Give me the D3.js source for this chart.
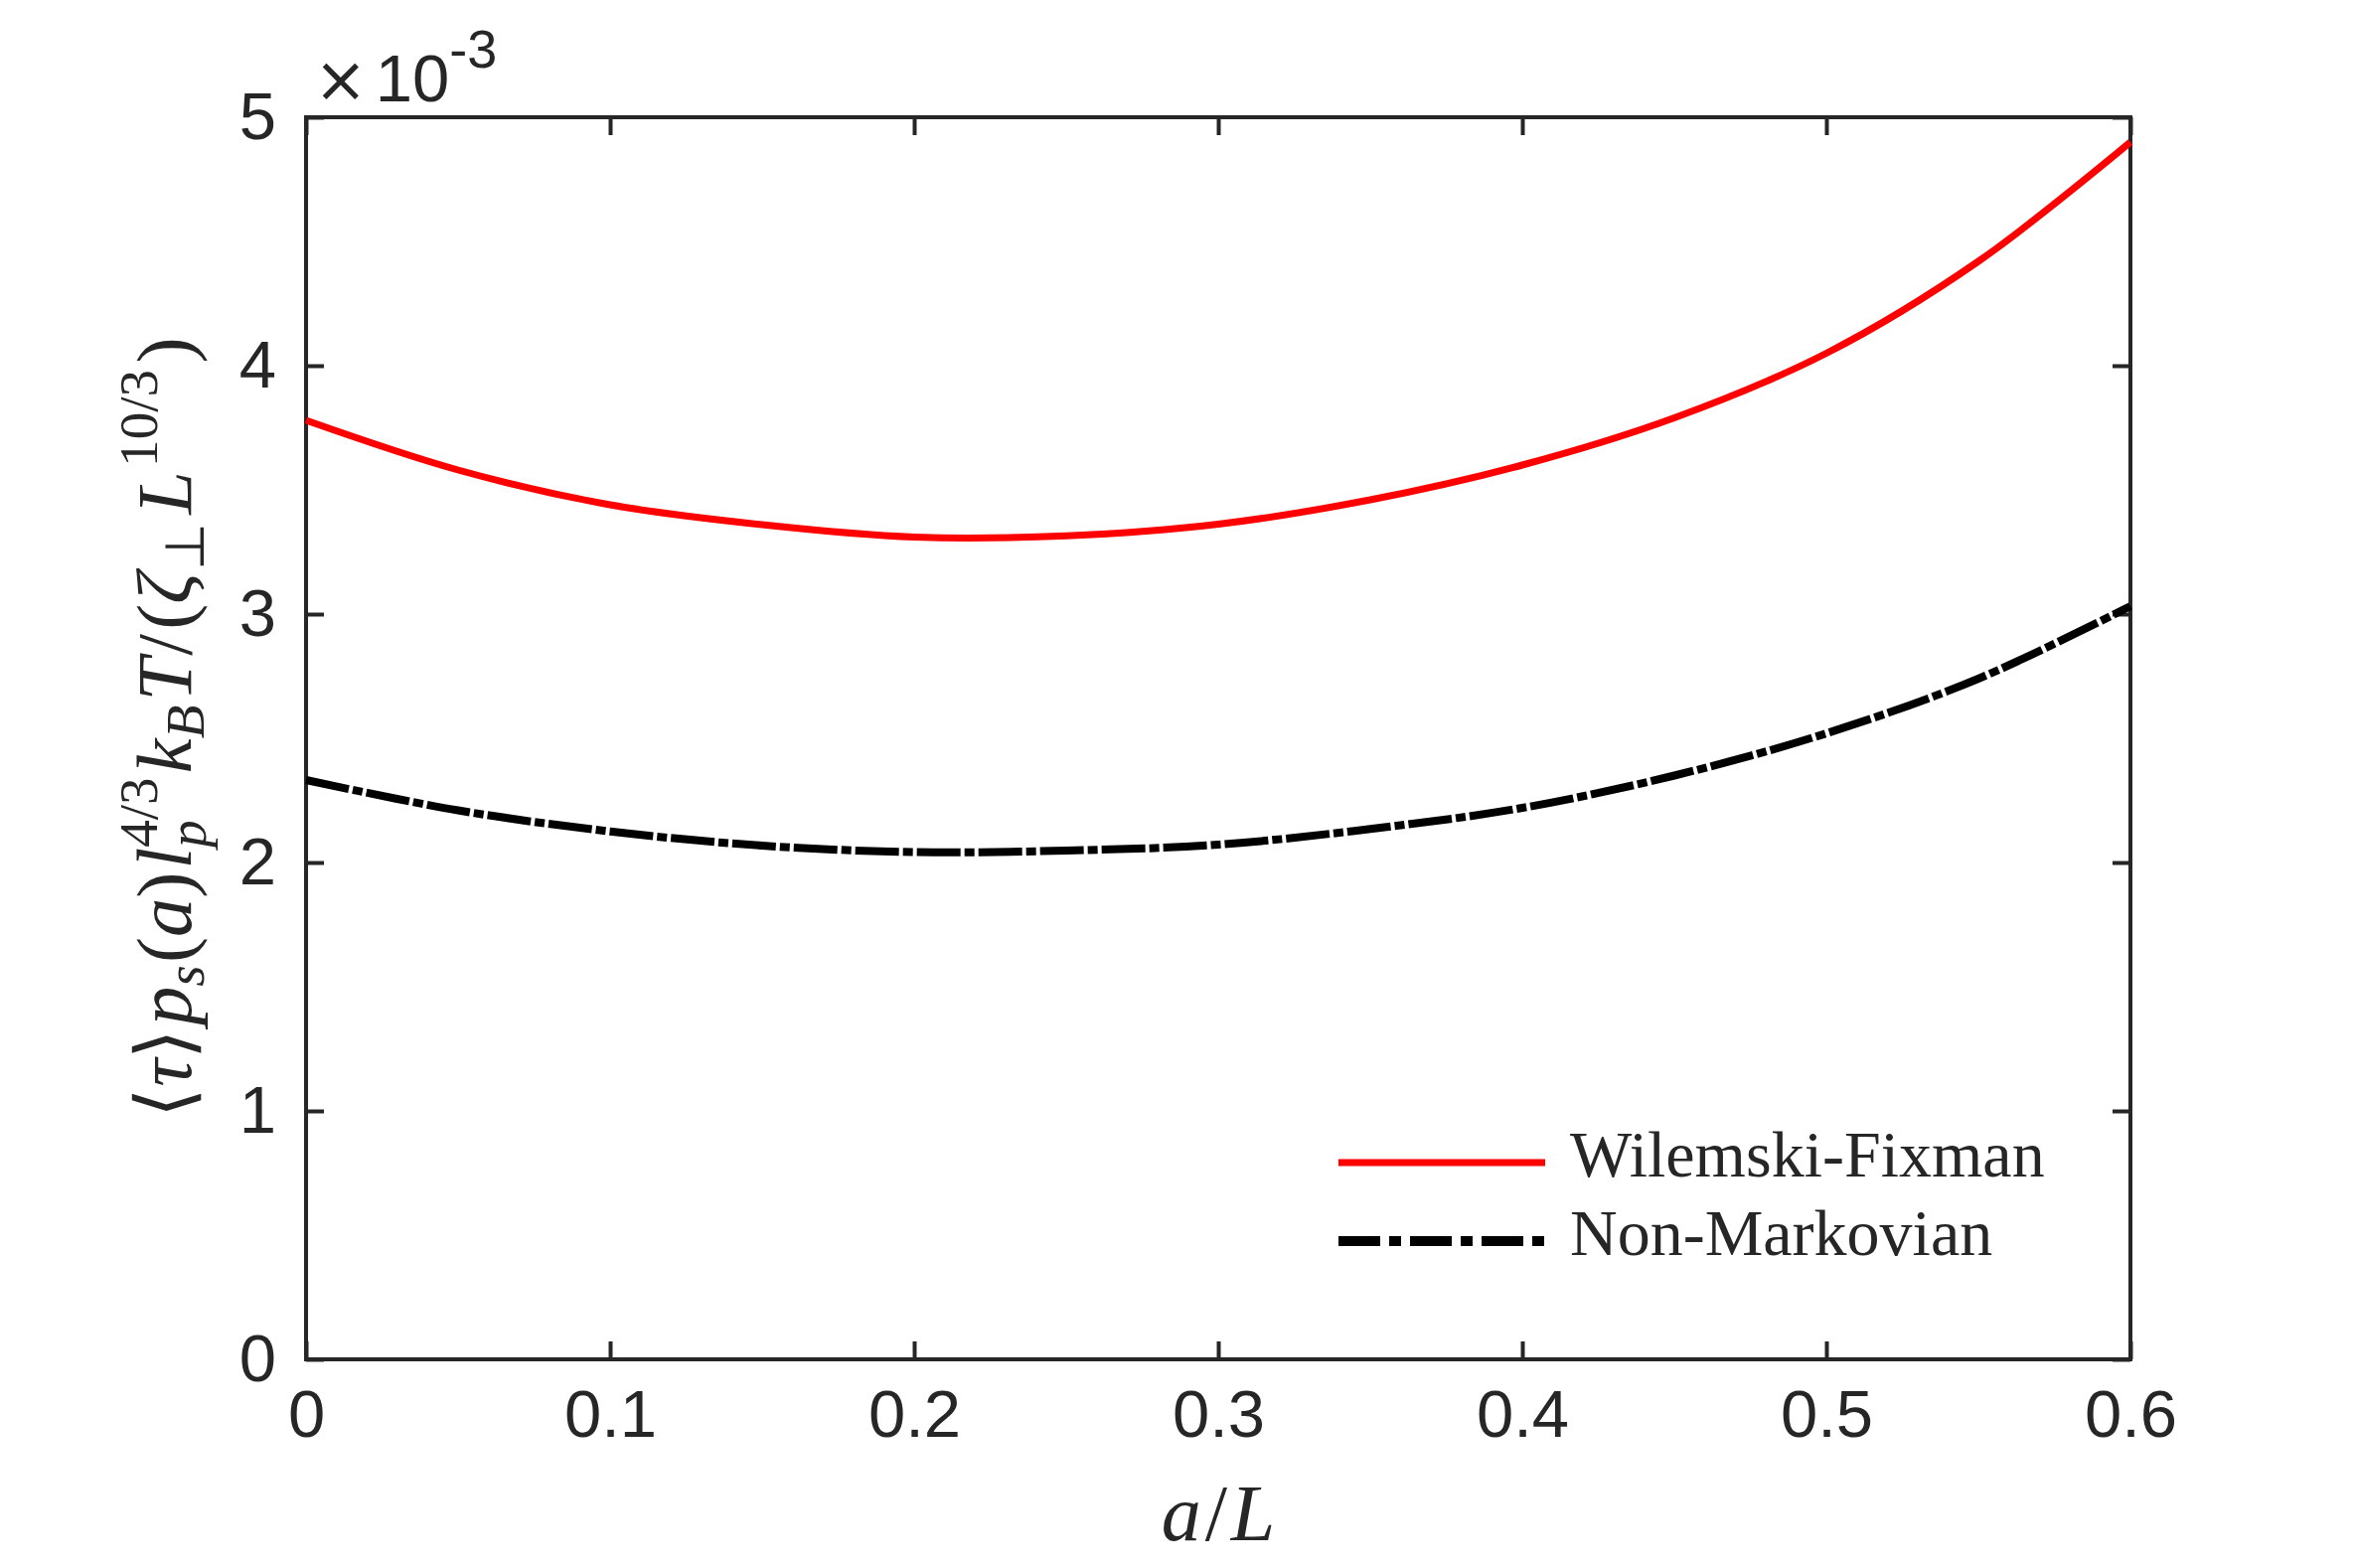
<!DOCTYPE html>
<html>
<head>
<meta charset="utf-8">
<script src="https://cdn.jsdelivr.net/npm/d3@7"></script>
<style>
  body { margin: 0; background: white; }
  text { fill: #262626; }
</style>
</head>
<body>
<div id="chart-area"></div>
<script>
// values (y in units of 1e-3)
const aValues = [0, 0.05, 0.1, 0.15, 0.2, 0.25, 0.3, 0.35, 0.4, 0.45, 0.5, 0.55, 0.6];
const wilemskiFixman = [3.78, 3.58, 3.44, 3.36, 3.31, 3.315, 3.362, 3.46, 3.60, 3.79, 4.05, 4.42, 4.90];
const nonMarkovian = [2.332, 2.21, 2.125, 2.068, 2.042, 2.048, 2.072, 2.135, 2.22, 2.35, 2.52, 2.74, 3.032];
const xTicks = [0, 0.1, 0.2, 0.3, 0.4, 0.5, 0.6];
const yTicks = [0, 1, 2, 3, 4, 5];
const seriesNames = ["Wilemski-Fixman", "Non-Markovian"];

const W = 2370, H = 1578;
const margin = { top: 118, right: 226, bottom: 210, left: 308 };
const width = W - margin.left - margin.right,
  height = H - margin.top - margin.bottom;
const axisColor = "#262626";
const tickLen = 18;

let svg = d3.select("#chart-area").append("svg")
  .attr("width", W)
  .attr("height", H);

let g = svg.append("g")
  .attr("transform", `translate(${margin.left}, ${margin.top})`);

let x = d3.scaleLinear().domain([0, 0.6]).range([0, width]);
let y = d3.scaleLinear().domain([0, 5]).range([height, 0]);

// axes (ticks inward on all four sides, like matlab box on)
function styleAxis(sel) {
  sel.select(".domain").remove();
  sel.selectAll("line").attr("stroke", axisColor).attr("stroke-width", 4);
  sel.selectAll("text")
    .style("font-family", "'Liberation Sans', Arial, sans-serif")
    .style("font-size", "67px")
    .attr("fill", axisColor);
}

g.append("g")
  .attr("transform", `translate(0, ${height})`)
  .call(d3.axisBottom(x).tickValues(xTicks).tickSize(-tickLen).tickPadding(30)
    .tickFormat(d => d === 0 ? "0" : d3.format(".1f")(d)))
  .call(styleAxis);
g.append("g")
  .call(d3.axisTop(x).tickValues(xTicks).tickSize(-tickLen).tickFormat(""))
  .call(styleAxis);
g.append("g")
  .call(d3.axisLeft(y).tickValues(yTicks).tickSize(-tickLen).tickPadding(30)
    .tickFormat(d3.format("d")))
  .call(styleAxis);
g.append("g")
  .attr("transform", `translate(${width}, 0)`)
  .call(d3.axisRight(y).tickValues(yTicks).tickSize(-tickLen).tickFormat(""))
  .call(styleAxis);

// frame
g.append("rect")
  .attr("width", width)
  .attr("height", height)
  .attr("fill", "none")
  .attr("stroke", axisColor)
  .attr("stroke-width", 4);

// exponent label
let expo = g.append("text")
  .attr("x", 8)
  .attr("y", -16)
  .style("font-family", "'Liberation Sans', Arial, sans-serif")
  .style("font-size", "67px");
expo.append("tspan").text("×").style("font-family", "'DejaVu Sans', sans-serif").style("font-size", "64px");
expo.append("tspan").text("10").attr("dx", 8);
expo.append("tspan").text("-3").attr("dy", -34).style("font-size", "54px");

// curves
let line = d3.line()
  .x(d => x(d[0]))
  .y(d => y(d[1]))
  .curve(d3.curveCatmullRom.alpha(0.5));

g.append("path")
  .datum(aValues.map((a, i) => [a, wilemskiFixman[i]]))
  .attr("d", line)
  .attr("fill", "none")
  .attr("stroke", "#ff0000")
  .attr("stroke-width", 7);

g.append("path")
  .datum(aValues.map((a, i) => [a, nonMarkovian[i]]))
  .attr("d", line)
  .attr("fill", "none")
  .attr("stroke", "#000000")
  .attr("stroke-width", 8)
  .attr("stroke-dasharray", "44 4 10 4");

// legend
const legendStyles = [
  { color: "#ff0000", width: 7, dash: null },
  { color: "#000000", width: 10, dash: "42 9 12 9" }
];
let legend = svg.append("g").attr("transform", "translate(1347, 1170)");
seriesNames.forEach((name, i) => {
  let row = legend.append("g").attr("transform", `translate(0, ${i * 79})`);
  row.append("line")
    .attr("x1", 0).attr("x2", 208)
    .attr("stroke", legendStyles[i].color)
    .attr("stroke-width", legendStyles[i].width)
    .attr("stroke-dasharray", legendStyles[i].dash);
  row.append("text")
    .attr("x", 233)
    .attr("y", 14)
    .style("font-family", "'Liberation Serif', 'Times New Roman', serif")
    .style("font-size", "66px")
    .attr("fill", "#000")
    .text(name);
});

// x label a/L
let xlab = svg.append("text")
  .attr("x", margin.left + x(0.3))
  .attr("y", 1550)
  .attr("text-anchor", "middle")
  .style("font-family", "'Liberation Serif', serif")
  .style("font-size", "80px");
xlab.append("tspan").text("a").style("font-style", "italic");
xlab.append("tspan").text("/").attr("dx", 4);
xlab.append("tspan").text("L").style("font-style", "italic").attr("dx", 4);

// y label, laid out piece by piece then scaled to the reference length
const base = 74, small = 52;
const yLabelPieces = [
  { t: "⟨" }, { t: "τ", it: 1 }, { t: "⟩" },
  { t: "p", it: 1, gap: 3 }, { t: "s", it: 1, s: 1, dy: 12 },
  { t: "(", gap: 2 }, { t: "a", it: 1 }, { t: ")" },
  { t: "l", it: 1, gap: 3 }, { stack: [{ t: "4/3", s: 1, dy: -32 }, { t: "p", it: 1, s: 1, dy: 14 }] },
  { t: "k", it: 1, gap: 4 }, { t: "B", it: 1, s: 1, dy: 12 },
  { t: "T", it: 1, gap: 4 }, { t: "/", gap: 2 }, { t: "(", gap: 4 },
  { t: "ζ", it: 1 }, { t: "⊥", s: 1, dy: 12, gap: 2 },
  { t: "L", it: 1, gap: 8 }, { t: "10/3", s: 1, dy: -32, gap: 4 },
  { t: ")", gap: 6 }
];
let ylabOuter = svg.append("g")
  .attr("transform", `translate(192, 732) rotate(-90)`);
let ylab = ylabOuter.append("g");
let cursor = 0;
function putPiece(p, at) {
  let el = ylab.append("text")
    .attr("x", at)
    .attr("y", p.dy || 0)
    .style("font-family", "'Liberation Serif', serif")
    .style("font-size", (p.s ? small : base) + "px")
    .style("font-style", p.it ? "italic" : "normal")
    .text(p.t);
  return el.node().getComputedTextLength();
}
yLabelPieces.forEach(p => {
  cursor += p.gap || 0;
  if (p.stack) {
    let w = d3.max(p.stack.map(q => putPiece(q, cursor)));
    cursor += w;
  } else {
    cursor += putPiece(p, cursor);
  }
});
const targetLength = 785;
const k = targetLength / cursor;
ylab.attr("transform", `scale(${k}) translate(${-cursor / 2}, 0)`);
</script>
</body>
</html>
